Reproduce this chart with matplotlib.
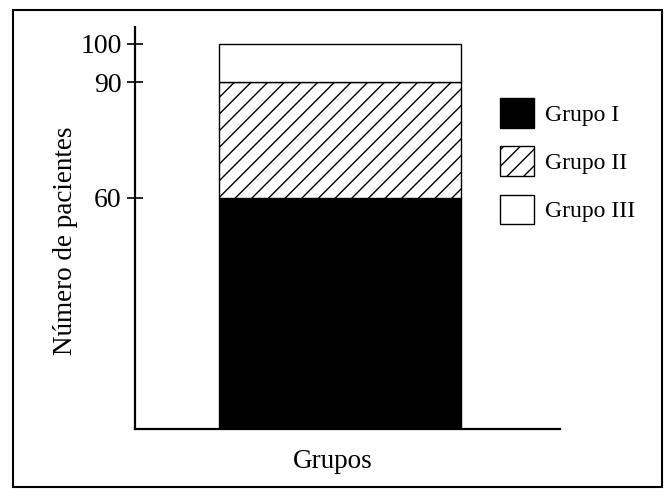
import matplotlib
matplotlib.use("Agg")
import matplotlib.pyplot as plt
from matplotlib.patches import Rectangle, Patch

plt.rcParams["font.family"] = ["Liberation Serif", "DejaVu Serif"]
plt.rcParams["hatch.linewidth"] = 1.0

groups = ["Grupo I", "Grupo II", "Grupo III"]
values = [60, 30, 10]
yticks = [60, 90, 100]
colors = ["black", "white", "white"]
hatches = [None, "//", None]

fig = plt.figure(figsize=(6.68, 4.97), dpi=100)
ax = fig.add_axes([135 / 668, 1 - 429 / 497, (560 - 135) / 668, (429 - 27) / 497])

bottom = 0
handles = []
for name, v, c, h in zip(groups, values, colors, hatches):
    ax.bar(0, v, width=1.0, bottom=bottom, color=c, edgecolor="black",
           hatch=h, linewidth=1.0)
    bottom += v
    handles.append(Patch(facecolor=c, edgecolor="black", hatch=h, label=name))

ax.set_xlim(-(340 - 135) / 242, (560 - 340) / 242)
ax.set_ylim(0, 104.3)
ax.set_yticks(yticks)
ax.set_xticks([])
ax.tick_params(axis="y", direction="inout", length=11, width=1.2, labelsize=20, pad=4)
for s in ["top", "right"]:
    ax.spines[s].set_visible(False)
ax.spines["left"].set_linewidth(1.6)
ax.spines["bottom"].set_linewidth(1.6)

fig.text(66 / 668, 1 - 241 / 497, "Número de pacientes", rotation=90,
         ha="center", va="center", fontsize=19.5)
fig.text(333 / 668, 1 - 462 / 497, "Grupos", ha="center", va="center", fontsize=19.5)

fig.legend(handles=handles, loc="upper left", bbox_to_anchor=(500 / 668, 1 - 98 / 497),
           frameon=False, fontsize=17, handlelength=1.44, handleheight=1.55,
           labelspacing=0.8, handletextpad=0.45, borderpad=0, borderaxespad=0)

fig.add_artist(Rectangle((13 / 668, 10 / 497), (662 - 13) / 668, (487 - 10) / 497,
                         transform=fig.transFigure, fill=False, edgecolor="black",
                         linewidth=1.5))

fig.savefig("out.png", dpi=100)
